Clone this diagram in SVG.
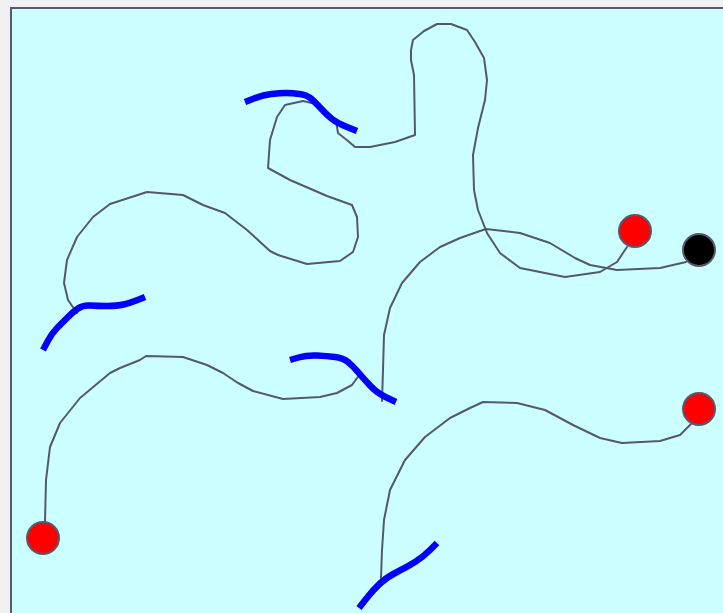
<svg xmlns="http://www.w3.org/2000/svg" width="723" height="613" viewBox="0 0 723 613">
<style>
.wire{fill:none;stroke:#555770;stroke-width:2;stroke-linejoin:round;stroke-linecap:round}
.blue{fill:none;stroke:#0000ff;stroke-width:6.5;stroke-linejoin:round;stroke-linecap:butt}
.pin{stroke:#555a70;stroke-width:2}
</style>
<rect x="0" y="0" width="723" height="613" fill="#f1f1f3"/>
<rect x="11" y="8" width="720" height="620" fill="#ccffff" stroke="#555a70" stroke-width="2"/>
<g id="connectors">
<polyline class="wire" points="627,247 617,262 600,272 565,277 520,268 500,253 487,233 478,210 474,190 473,155 478,128 485,100 487,80 484,58 475,42 467,30 451,24 437,24 424,31 413,40 411,50 411,60 414,75 415,135 395,142 370,147 355,147 348,141 338,133 336,121"/>
<polyline class="wire" points="686,262 660,268 617,270 590,265 575,258 550,243 520,233 486,229 480,231 460,238 440,247 420,262 402,283 390,308 384,335 383,370 382,401"/>
<polyline class="wire" points="316,104 303,101 285,105 277,117 270,140 268,168 290,180 327,196 352,205 357,217 358,237 353,252 340,261 307,264 278,255 270,251 247,230 225,213 203,205 183,195 147,192 110,204 93,217 77,237 67,260 64,283 68,300 77,313"/>
<polyline class="wire" points="45,522 46,480 50,447 60,423 80,398 110,373 120,368 140,360 146,356 183,357 207,365 223,373 238,383 253,391 283,399 320,397 337,393 352,385 360,374"/>
<polyline class="wire" points="692,423 680,435 660,441 622,443 600,438 573,425 545,410 517,403 483,402 470,408 450,418 425,437 405,460 390,490 384,520 382,550 381,578"/>
</g>
<g id="stroke1"><path class="blue" d="M245,102 L254,98.5 Q263,95 271.5,94 Q280,93 286,93 Q292,93 299.5,94 Q307,95 311,98.5 Q315,102 321,108.5 Q327,115 332,119 Q337,123 347,127 L357,131"/></g>
<g id="stroke2"><path class="blue" d="M43,350 L47.5,341.5 Q52,333 57.5,327.5 Q63,322 68,317 Q73,312 78,308.5 Q83,305 90,305.5 Q97,306 107,306 Q117,306 123.5,304.5 Q130,303 137.5,300 L145,297"/></g>
<g id="stroke3"><path class="blue" d="M290,360 L298.5,357.5 Q307,355 317,355.5 Q327,356 335,357 Q343,358 348,362 Q353,366 358,372 Q363,378 370,385.5 Q377,393 386.5,397.5 L396,402"/></g>
<g id="stroke4"><path class="blue" d="M359,608 L366,599 Q373,590 380,583.5 Q387,577 397,572 Q407,567 415,562 Q423,557 430,550 L437,543"/></g>
<g id="node-red1"><circle class="pin" cx="635" cy="231" r="16" fill="#ff0000"/></g>
<g id="node-black"><circle class="pin" cx="699" cy="250" r="16" fill="#000000"/></g>
<g id="node-red2"><circle class="pin" cx="699" cy="409" r="16" fill="#ff0000"/></g>
<g id="node-red3"><circle class="pin" cx="43" cy="538" r="16" fill="#ff0000"/></g>
</svg>
